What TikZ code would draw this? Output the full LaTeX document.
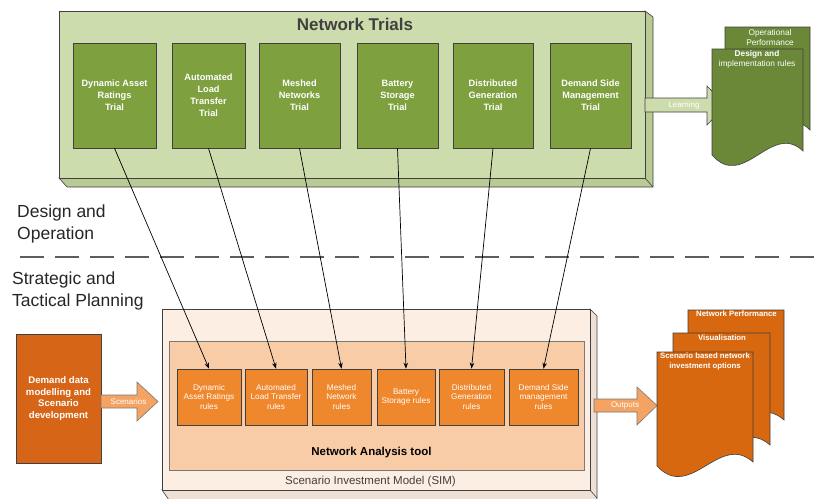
\documentclass[tikz,border=0pt]{standalone}
\usepackage{fontspec}
\setmainfont{Liberation Sans}
\usetikzlibrary{arrows.meta}

\definecolor{lineColor}{RGB}{64,64,64}
\definecolor{outerGreen}{RGB}{205,220,172}
\definecolor{sideGreen}{RGB}{186,202,148}
\definecolor{trialGreen}{RGB}{126,160,62}
\definecolor{docGreen}{RGB}{106,136,56}
\definecolor{simPeach}{RGB}{253,238,227}
\definecolor{sidePeach}{RGB}{238,224,212}
\definecolor{natPeach}{RGB}{249,204,168}
\definecolor{ruleOrange}{RGB}{239,135,45}
\definecolor{demandOrange}{RGB}{215,101,23}
\definecolor{docOrange}{RGB}{216,104,16}
\definecolor{arrowOrange}{RGB}{244,163,98}

% document page with a wavy bottom: fill, left, top, right, bottom
\newcommand\docpage[5]{%
  \path[draw=lineColor,line width=0.6pt,fill=#1] (#2,#3) -- (#4,#3) -- (#4,#5-4)
    .. controls ({#2+0.65*(#4-#2)},#5-34) and ({#2+0.35*(#4-#2)},#5+36) .. (#2,#5) -- cycle;}

\begin{document}
\begin{tikzpicture}[x=1pt,y=-1pt,
  trial/.style={draw=lineColor,line width=0.6pt,fill=trialGreen,text=white,align=center,
    inner sep=0pt,minimum height=105pt,font=\bfseries\fontsize{9.2}{12}\selectfont},
  rulebox/.style={draw=lineColor,line width=0.6pt,fill=ruleOrange,text=white,align=center,
    inner sep=0pt,minimum height=56pt,font=\fontsize{8.2}{9.6}\selectfont},
  doctext/.style={text=white,align=center,inner sep=0pt,anchor=north,font=\fontsize{8.3}{10}\selectfont},
  tag/.style={text=white,inner sep=0pt,font=\fontsize{8}{9}\selectfont},
  link/.style={draw=black,line width=0.7pt,-{Stealth[length=6pt,width=4.5pt]}}]
\path[use as bounding box,fill=white] (0,0) rectangle (818,498);

% network trials block
\path[draw=lineColor,line width=0.6pt,fill=sideGreen] (645,11) -- (653,17) -- (653,187) -- (67,187) -- (59,178) -- (645,178) -- cycle;
\path[draw=lineColor,line width=0.6pt] (645,178) -- (653,187);
\path[draw=lineColor,line width=0.6pt,fill=outerGreen] (59,11) rectangle (645,178);
\node[text=lineColor,inner sep=0pt,font=\bfseries\fontsize{17}{20}\selectfont] (nttitle) at (355,24) {Network Trials};

\node[trial,minimum width=83pt] (dart) at (114.5,95.5) {Dynamic Asset\\Ratings\\Trial};
\node[trial,minimum width=73pt] (altt) at (208.5,95.5) {Automated\\Load\\Transfer\\Trial};
\node[trial,minimum width=81pt] (mnt) at (299.5,95.5) {Meshed\\Networks\\Trial};
\node[trial,minimum width=81pt] (bst) at (397.5,95.5) {Battery\\Storage\\Trial};
\node[trial,minimum width=80pt] (dgt) at (493,95.5) {Distributed\\Generation\\Trial};
\node[trial,minimum width=81pt] (dsmt) at (590.5,95.5) {Demand Side\\Management\\Trial};

% learning arrow and output documents
\path[draw=lineColor,line width=0.6pt,fill=outerGreen] (645,98) -- (707,98) -- (707,86) -- (726,105.5) -- (707,125) -- (707,112) -- (645,112) -- cycle;
\node[tag] (learn) at (684,105) {Learning};
\docpage{docGreen}{725}{27}{810}{134}
\docpage{docGreen}{712}{49}{803}{155}
\node[doctext] (operf) at (770,29) {Operational\\Performance};
\node[doctext] (design) at (757,50) {\bfseries Design and\\implementation rules};

% divider between the two levels
\path[draw=lineColor!85,line width=2.6pt,dash pattern=on 24pt off 11pt] (20,257) -- (816,257);
\node[anchor=base west,align=left,inner sep=0pt,text=black!85,font=\fontsize{17.5}{22}\selectfont] (designop) at (17,239) {Design and\\Operation};
\node[anchor=base west,align=left,inner sep=0pt,text=black!85,font=\fontsize{17.5}{22}\selectfont] (strategic) at (12,306) {Strategic and\\Tactical Planning};

% scenario investment model
\path[draw=lineColor,line width=0.6pt,fill=sidePeach] (590,309) -- (597,316) -- (597,500) -- (169,500) -- (162,490) -- (590,490) -- cycle;
\path[draw=lineColor,line width=0.6pt] (590,490) -- (597,498);
\path[draw=lineColor,line width=0.6pt,fill=simPeach] (162,309) rectangle (590,490);
\path[draw=lineColor!70,line width=0.6pt,fill=natPeach] (169,341) rectangle (584,470);
\node[inner sep=0pt,font=\bfseries\fontsize{11.5}{14}\selectfont] (nat) at (371.5,453) {Network Analysis tool};
\node[inner sep=0pt,text=lineColor,font=\fontsize{11.5}{14}\selectfont] (sim) at (370.5,482) {Scenario Investment Model (SIM)};

\node[rulebox,minimum width=64pt] (darr) at (209,397) {Dynamic\\Asset Ratings\\rules};
\node[rulebox,minimum width=62pt] (altr) at (276,397) {Automated\\Load Transfer\\rules};
\node[rulebox,minimum width=59pt] (mnr) at (341.5,397) {Meshed\\Network\\rules};
\node[rulebox,minimum width=58pt] (bsr) at (406,397) {Battery\\Storage rules};
\node[rulebox,minimum width=65pt] (dgr) at (471.5,397) {Distributed\\Generation\\rules};
\node[rulebox,minimum width=69pt] (dsmr) at (543.5,397) {Demand Side\\management\\rules};

% demand data input
\node[draw=lineColor,line width=0.6pt,fill=demandOrange,text=white,align=center,inner sep=0pt,
  minimum width=85pt,minimum height=129pt,font=\bfseries\fontsize{9.6}{11.8}\selectfont] (demand) at (58.5,398.5)
  {Demand data\\modelling and\\Scenario\\development};
\path[draw=lineColor!70,line width=0.6pt,fill=arrowOrange] (101,395) -- (137,395) -- (137,382) -- (158,401.5) -- (137,421) -- (137,408) -- (101,408) -- cycle;
\node[tag] (scen) at (128.5,401.5) {Scenarios};

% outputs
\path[draw=lineColor!70,line width=0.6pt,fill=arrowOrange] (594,399) -- (637,399) -- (637,387) -- (657,405.5) -- (637,425) -- (637,412) -- (594,412) -- cycle;
\node[tag] (outp) at (625,405.5) {Outputs};
\docpage{docOrange}{688}{310}{784}{424}
\docpage{docOrange}{673}{333}{770}{449}
\docpage{docOrange}{657}{352}{753}{466}
\node[doctext,font=\bfseries\fontsize{7.8}{10}\selectfont] (netperf) at (736.5,311) {Network Performance};
\node[doctext,font=\bfseries\fontsize{7.8}{10}\selectfont] (visual) at (722,335) {Visualisation};
\node[doctext,font=\bfseries\fontsize{7.8}{10}\selectfont] (options) at (705,353) {Scenario based network\\investment options};

% trials feed the rules
\draw[link] (dart.south) -- (darr.north);
\draw[link] (altt.south) -- (altr.north);
\draw[link] (mnt.south) -- (mnr.north);
\draw[link] (bst.south) -- (bsr.north);
\draw[link] (dgt.south) -- (dgr.north);
\draw[link] (dsmt.south) -- (dsmr.north);
\end{tikzpicture}
\end{document}
